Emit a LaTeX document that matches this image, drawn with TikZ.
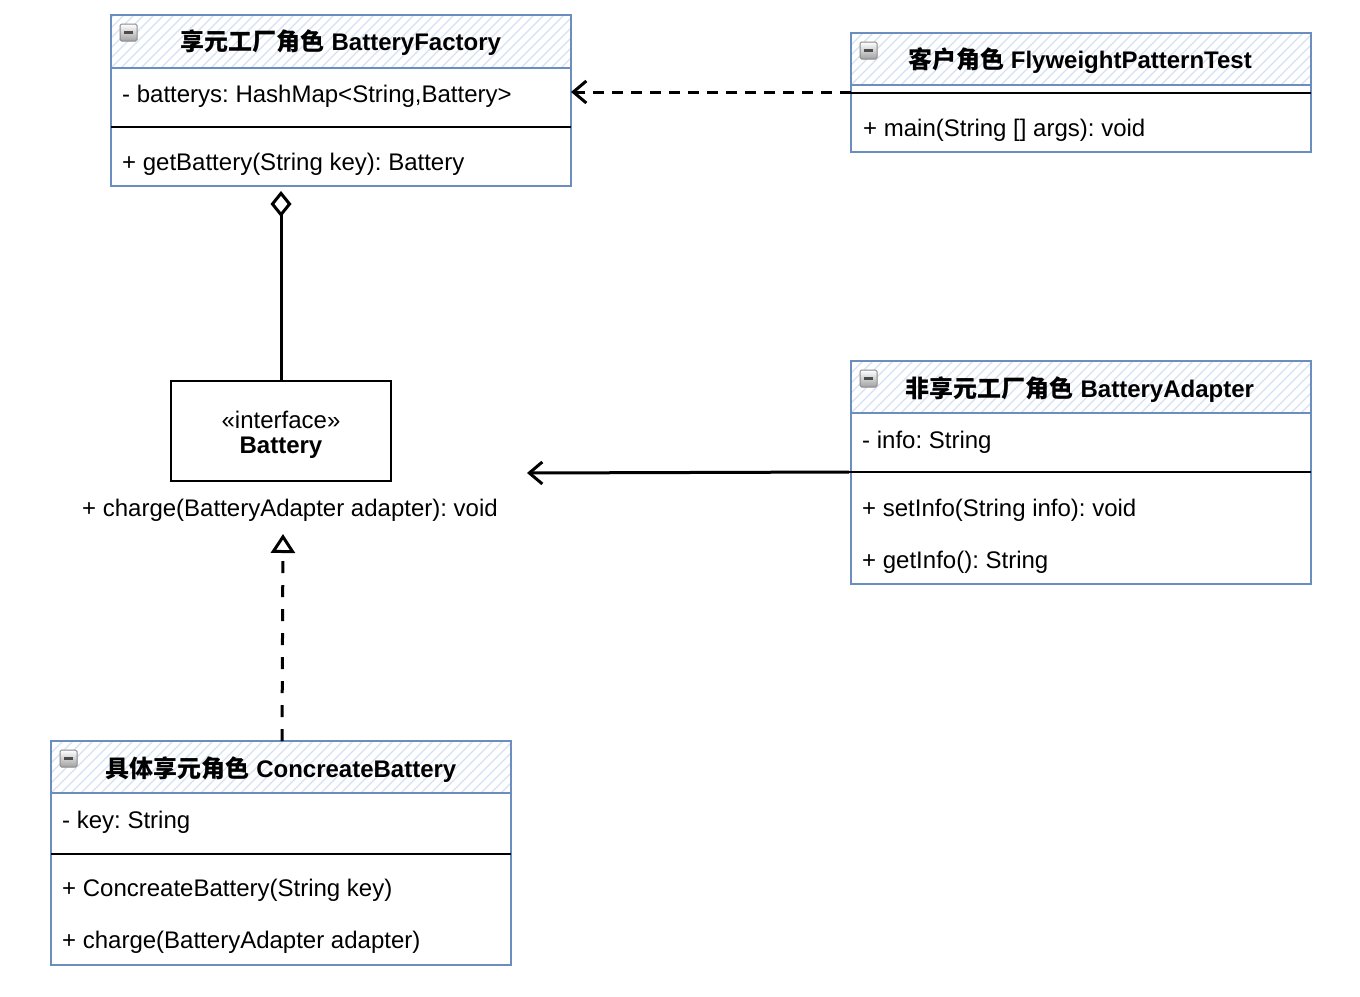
\documentclass[tikz,border=0pt]{standalone}
\usepackage{fontspec}
\setmainfont{Liberation Sans}
\newfontfamily\cjk{Noto Sans CJK SC}
\usetikzlibrary{arrows.meta}
\definecolor{umlblue}{HTML}{6C8EBF}
\definecolor{hatchblue}{HTML}{D4E1F5}
\definecolor{icongray}{HTML}{8A8A8A}
\frenchspacing

\tikzset{
  frame/.style={draw=umlblue, line width=2pt, minimum width=460pt, inner sep=0pt, outer sep=0pt, anchor=north west},
  ifaceframe/.style={draw=black, line width=2pt, minimum width=220pt, minimum height=100pt, inner sep=0pt, outer sep=0pt, anchor=north west},
  txt/.style={anchor=west, inner sep=0pt, yshift=-2pt},
  ctxt/.style={inner sep=0pt, yshift=-2pt},
  titletxt/.style={inner sep=0pt, yshift=-1.5pt, font=\fontsize{24}{28}\selectfont\bfseries},
  sepline/.style={line width=2.5pt, black},
  hdrline/.style={draw=umlblue, line width=2pt},
  hatch/.style={hatchblue, line width=1.1pt},
  conn/.style={line width=3pt, black},
  dep/.style={conn, dash pattern=on 11pt off 8pt, -{Straight Barb[length=13pt,width=22pt,line width=3pt]}},
  assoc/.style={conn, -{Straight Barb[length=13pt,width=22pt,line width=3pt]}},
  agg/.style={conn, shorten >=5pt, -{Diamond[open,length=26pt,width=21pt,line width=3pt]}},
  realz/.style={conn, dash pattern=on 12pt off 12pt, -{Triangle[open,length=19pt,width=24pt,line width=3pt]}},
}

% header hatching: x1,y1,x2,y2
\newcommand\hdrhatch[4]{%
  \begin{scope}
    \clip (#1,#2) rectangle (#3,#4);
    \foreach \k in {0,10,...,530} \draw[hatch] ({#1+\k-60},#4) -- ++(60,-60);
  \end{scope}
  \draw[hdrline] (#1,#4) -- (#3,#4);
}
% collapse icon at top-left x,y
\newcommand\collapseicon[2]{%
  \shade[top color=white, bottom color=icongray!80, draw=icongray, line width=1pt, rounded corners=1.5pt] (#1,#2) rectangle ++(17,17);
  \draw[line width=2.4pt, black!70] ({#1+4},{#2+8.5}) -- ++(9,0);
}

\begin{document}
\begin{tikzpicture}[x=1pt, y=-1pt, font=\fontsize{24}{28}\selectfont]
\useasboundingbox[fill=white] (0,0) rectangle (1360,996);

% ---------- BatteryFactory ----------
\hdrhatch{111}{15}{571}{68}
\node[frame, minimum height=171pt] (fac) at (111,15) {};
\collapseicon{120}{24}
\node[titletxt] (facT) at (341,41) {{\cjk 享元工厂角色} BatteryFactory};
\node[txt] (facA) at (122,94) {- batterys: HashMap<String,Battery>};
\draw[sepline] (111,127) -- (571,127);
\node[txt] (facM) at (122,162) {+ getBattery(String key): Battery};

% ---------- Client ----------
\hdrhatch{851}{33}{1311}{85}
\node[frame, minimum height=119pt] (cli) at (851,33) {};
\collapseicon{860}{42}
\node[titletxt] (cliT) at (1080,59) {{\cjk 客户角色} FlyweightPatternTest};
\draw[sepline] (851,93) -- (1311,93);
\coordinate (cliSep) at (851,92);
\node[txt] (cliM) at (863,128) {+ main(String [] args): void};

% ---------- Battery interface ----------
\node[ifaceframe] (bat) at (171,381) {};
\node[ctxt] (batS) at (281,418) {«interface»};
\node[ctxt, font=\fontsize{24}{28}\selectfont\bfseries] (batN) at (281,446) {Battery};
\node[ctxt] (batOp) at (290,508) {+ charge(BatteryAdapter adapter): void};
\coordinate (batR) at (527,473);

% ---------- BatteryAdapter ----------
\hdrhatch{851}{361}{1311}{413}
\node[frame, minimum height=223pt] (ada) at (851,361) {};
\collapseicon{860}{370}
\node[titletxt] (adaT) at (1080,388) {{\cjk 非享元工厂角色} BatteryAdapter};
\node[txt] (adaA) at (862,440) {- info: String};
\draw[sepline] (849,472) -- (1311,472);
\coordinate (adaSep) at (849,472);
\node[txt] (adaM1) at (862,508) {+ setInfo(String info): void};
\node[txt] (adaM2) at (862,560) {+ getInfo(): String};

% ---------- ConcreteBattery ----------
\hdrhatch{51}{741}{511}{793}
\node[frame, minimum height=224pt] (con) at (51,741) {};
\collapseicon{60}{750}
\node[titletxt] (conT) at (281,768) {{\cjk 具体享元角色} ConcreateBattery};
\node[txt] (conA) at (62,820) {- key: String};
\draw[sepline] (51,854) -- (511,854);
\node[txt] (conM1) at (62,888) {+ ConcreateBattery(String key)};
\node[txt] (conM2) at (62,940) {+ charge(BatteryAdapter adapter)};

% ---------- connectors ----------
\draw[dep] (cliSep) -- (cliSep -| fac.east);
\draw[agg] (bat.north) -- (bat.north |- fac.south);
\draw[assoc] (adaSep) -- (batR);
\draw[realz] ([xshift=1pt]con.north) -- ([xshift=2pt]con.north |- 0,534);
\end{tikzpicture}
\end{document}
